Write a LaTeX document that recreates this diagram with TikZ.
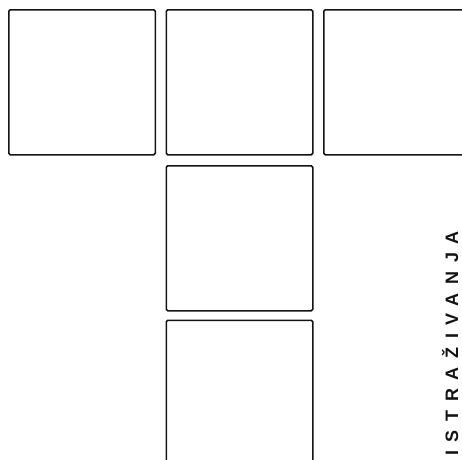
\documentclass[tikz,border=0pt]{standalone}
\usepackage{fontspec}
\newfontfamily\labelfont{Liberation Sans}[LetterSpace=48]
\usepackage{tikz}
\usetikzlibrary{positioning}
\definecolor{ink}{RGB}{20, 20, 20}
\tikzset{panel/.style={draw=ink, line width=1.5pt, rounded corners=1.5pt, inner sep=0pt,
    minimum width=146.5pt, minimum height=145pt, anchor=north west}}

\begin{document}
\begin{tikzpicture}[x=1pt, y=-1pt, node distance=9.5pt]
    \useasboundingbox (0,0) rectangle (462,459);
    \clip (0,0) rectangle (462,459);

    % Top row
    \node[panel] (left) at (8,9) {};
    \node[panel, right=of left] (middle) {};
    \node[panel, right=of middle] (right) {};

    % Column under the middle
    \node[panel, below=of middle] (centre) {};
    \node[panel, below=8pt of centre] (stem) {};

    % Side title
    \node[rotate=90, anchor=base west, inner sep=0pt, text=ink,
        font=\labelfont\bfseries\fontsize{18}{18}\selectfont] (title) at (458,456) {ISTRAŽIVANJA};
\end{tikzpicture}
\end{document}
